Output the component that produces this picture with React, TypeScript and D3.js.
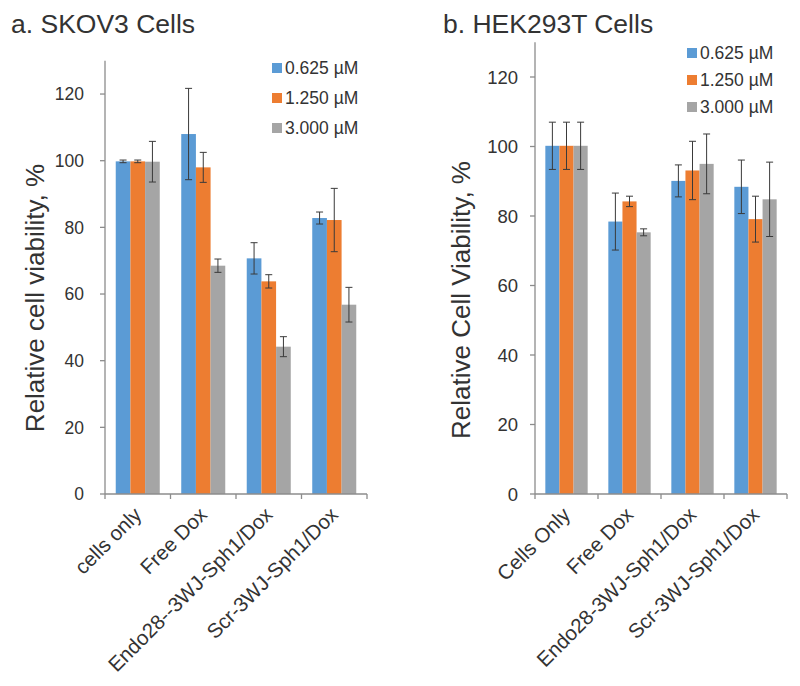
import React from "react";
import * as d3 from "d3";

const seriesNames = ["0.625 µM", "1.250 µM", "3.000 µM"];
const seriesColors = ["#5B9BD5", "#ED7D31", "#A5A5A5"];

const catsA = ["cells only", "Free Dox", "Endo28--3WJ-Sph1/Dox", "Scr-3WJ-Sph1/Dox"];
const valsA = [
  [99.8, 108.0, 70.7, 82.8],
  [99.8, 98.0, 63.8, 82.2],
  [99.7, 68.5, 44.2, 56.8],
];
const errA = [
  [0.4, 13.7, 4.7, 1.8],
  [0.4, 4.5, 2.0, 9.5],
  [6.1, 2.0, 3.0, 5.2],
];

const catsB = ["Cells Only", "Free Dox", "Endo28-3WJ-Sph1/Dox", "Scr-3WJ-Sph1/Dox"];
const valsB = [
  [100.2, 78.4, 90.1, 88.4],
  [100.2, 84.2, 93.1, 79.1],
  [100.2, 75.3, 95.0, 84.8],
];
const errB = [
  [6.8, 8.2, 4.6, 7.7],
  [6.8, 1.5, 8.4, 6.6],
  [6.8, 1.0, 8.6, 10.7],
];

const yTicks = [0, 20, 40, 60, 80, 100, 120];
const yMax = 130;

const FONT = "'Liberation Sans', Arial, Helvetica, sans-serif";
const TEXT = "#333333";
const AXIS = "#8C8C8C";

type PanelProps = {
  title: string;
  titleX: number;
  yLabel: string;
  yLabelX: number;
  yLabelY: number;
  cats: string[];
  vals: number[][];
  errs: number[][];
  x0: number;
  x1: number;
  yBase: number;
  yTop: number;
  tickFont: number;
  tickGap: number;
  legX: number;
  legY: number;
  legStep: number;
};

function Panel(p: PanelProps) {
  const x = d3.scaleBand<string>().domain(p.cats).range([p.x0, p.x1]).padding(0);
  const groupW = x.bandwidth() * 0.672;
  const xs = d3
    .scaleBand<string>()
    .domain(seriesNames)
    .range([0, groupW])
    .padding(0);
  const y = d3.scaleLinear().domain([0, yMax]).range([p.yBase, p.yTop]);
  const capW = 3.5;

  return (
    <g fontFamily={FONT}>
      <text x={p.titleX} y={33} fontSize={26.5} fill={TEXT}>
        {p.title}
      </text>
      {/* bars */}
      {p.cats.map((c, ci) =>
        seriesNames.map((s, si) => {
          const bx = (x(c) as number) + (x.bandwidth() - groupW) / 2 + (xs(s) as number);
          const v = p.vals[si][ci];
          const e = p.errs[si][ci];
          const cx = bx + xs.bandwidth() / 2;
          return (
            <g key={c + s}>
              <rect
                x={bx}
                y={y(v)}
                width={xs.bandwidth()}
                height={p.yBase - y(v)}
                fill={seriesColors[si]}
              />
              <line x1={cx} x2={cx} y1={y(v + e)} y2={y(v - e)} stroke="#3a3a3a" strokeWidth={1} />
              <line x1={cx - capW} x2={cx + capW} y1={y(v + e)} y2={y(v + e)} stroke="#3a3a3a" strokeWidth={1} />
              <line x1={cx - capW} x2={cx + capW} y1={y(v - e)} y2={y(v - e)} stroke="#3a3a3a" strokeWidth={1} />
            </g>
          );
        })
      )}
      {/* y axis */}
      <line x1={p.x0} x2={p.x0} y1={y(yMax)} y2={p.yBase} stroke={AXIS} strokeWidth={1.3} />
      {yTicks.map((t) => (
        <g key={t}>
          <line x1={p.x0 - 5} x2={p.x0} y1={y(t)} y2={y(t)} stroke={AXIS} strokeWidth={1.3} />
          <text
            x={p.x0 - p.tickGap}
            y={y(t)}
            dy="0.36em"
            textAnchor="end"
            fontSize={p.tickFont}
            fill={TEXT}
          >
            {t}
          </text>
        </g>
      ))}
      {/* x axis */}
      <line x1={p.x0} x2={p.x1} y1={p.yBase} y2={p.yBase} stroke={AXIS} strokeWidth={1.3} />
      {[...p.cats.map((c) => x(c) as number), p.x1].map((tx, i) => (
        <line key={i} x1={tx} x2={tx} y1={p.yBase} y2={p.yBase + 5} stroke={AXIS} strokeWidth={1.3} />
      ))}
      {p.cats.map((c) => {
        const cx = (x(c) as number) + x.bandwidth() / 2 + 5;
        const cy = p.yBase + 22;
        return (
          <text
            key={c}
            x={cx}
            y={cy}
            textAnchor="end"
            fontSize={20.5}
            fill={TEXT}
            transform={`rotate(-45 ${cx} ${cy})`}
          >
            {c}
          </text>
        );
      })}
      {/* y label */}
      <text
        x={p.yLabelX}
        y={p.yLabelY}
        textAnchor="middle"
        fontSize={26}
        fill={TEXT}
        transform={`rotate(-90 ${p.yLabelX} ${p.yLabelY})`}
      >
        {p.yLabel}
      </text>
      {/* legend */}
      {seriesNames.map((s, si) => {
        const ly = p.legY + si * p.legStep;
        return (
          <g key={s}>
            <rect x={p.legX} y={ly - 5} width={10} height={10} fill={seriesColors[si]} />
            <text x={p.legX + 13} y={ly} dy="0.36em" fontSize={17.5} fill={TEXT}>
              {s}
            </text>
          </g>
        );
      })}
    </g>
  );
}

export default function App() {
  return (
    <svg width={800} height={686} style={{ display: "block", position: "absolute", left: 0, top: 0, background: "#fff" }}>
      <rect width={800} height={686} fill="#fff" />
      <Panel
        title="a. SKOV3 Cells"
        titleX={11}
        yLabel="Relative cell viability, %"
        yLabelX={44}
        yLabelY={298}
        cats={catsA}
        vals={valsA}
        errs={errA}
        x0={105}
        x1={367}
        yBase={494}
        yTop={494 - 130 * 3.333}
        tickFont={17.5}
        tickGap={21}
        legX={272}
        legY={68}
        legStep={30}
      />
      <Panel
        title="b. HEK293T Cells"
        titleX={443}
        yLabel="Relative Cell Viability, %"
        yLabelX={470}
        yLabelY={300}
        cats={catsB}
        vals={valsB}
        errs={errB}
        x0={535}
        x1={787}
        yBase={494}
        yTop={494 - 130 * 3.475}
        tickFont={18.5}
        tickGap={17}
        legX={687}
        legY={53}
        legStep={27}
      />
    </svg>
  );
}
